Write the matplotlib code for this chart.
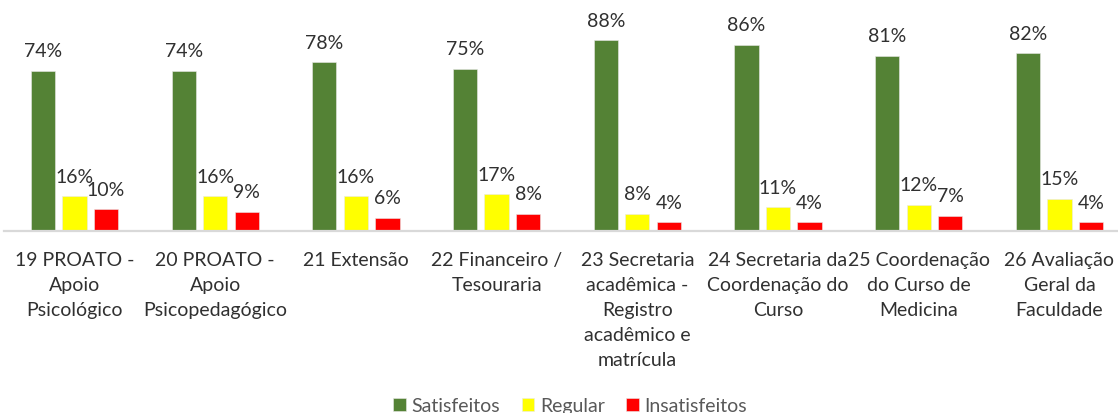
import matplotlib
matplotlib.use("Agg")
import matplotlib.pyplot as plt
import numpy as np

categories = [
    "19 PROATO -\nApoio\nPsicológico",
    "20 PROATO -\nApoio\nPsicopedagógico",
    "21 Extensão",
    "22 Financeiro /\nTesouraria",
    "23 Secretaria\nacadêmica -\nRegistro\nacadêmico e\nmatrícula",
    "24 Secretaria da\nCoordenação do\nCurso",
    "25 Coordenação\ndo Curso de\nMedicina",
    "26 Avaliação\nGeral da\nFaculdade",
]
satisfeitos = [74, 74, 78, 75, 88, 86, 81, 82]
regular = [16, 16, 16, 17, 8, 11, 12, 15]
insatisfeitos = [10, 9, 6, 8, 4, 4, 7, 4]
series_names = ["Satisfeitos", "Regular", "Insatisfeitos"]
colors = ["#548235", "#FFFF00", "#FF0000"]

plt.rcParams['font.family'] = ['Lato', 'DejaVu Sans']

W, H = 1118, 414
fig = plt.figure(figsize=(W / 100, H / 100), dpi=100)

cat_w = 140.7
left_px = 74.5 - cat_w / 2
base_px = 232
unit = 2.165
ax = fig.add_axes([left_px / W, (H - base_px) / H, cat_w * len(categories) / W, 100 * unit / H])

x = np.arange(len(categories))
offset = 0.224
bw = 0.172
data = [satisfeitos, regular, insatisfeitos]
for k, (vals, name, c) in enumerate(zip(data, series_names, colors)):
    xs = x + (k - 1) * offset
    ax.bar(xs, vals, width=bw, color=c, label=name, edgecolor='#E8E8E8', linewidth=0.4)
    for xi, v in zip(xs, vals):
        ax.annotate(f"{v}%", xy=(xi, v), xytext=(0, 10.5), textcoords='offset points',
                    ha='center', va='baseline', fontsize=14, color='#303030')

ax.set_xlim(-0.5, len(categories) - 0.5)
ax.set_ylim(0, 100)
for s in ['top', 'right', 'left']:
    ax.spines[s].set_visible(False)
ax.spines['bottom'].set_color('#D9D9D9')
ax.spines['bottom'].set_linewidth(1.6)
ax.set_yticks([])
ax.set_xticks([])

for xi, lab in zip(x, categories):
    ax.annotate(lab, xy=(xi, 0), xycoords=('data', 'axes fraction'), xytext=(0, -14.5),
                textcoords='offset points', ha='center', va='top', fontsize=14,
                color='#303030', linespacing=1.57)

leg = fig.legend(loc='lower center', bbox_to_anchor=(0.51, -0.045), ncol=3, frameon=False,
                 fontsize=14, handlelength=0.65, handleheight=0.65, handletextpad=0.3,
                 columnspacing=1.1, labelcolor='#595959')

fig.savefig("out.png", dpi=100)
